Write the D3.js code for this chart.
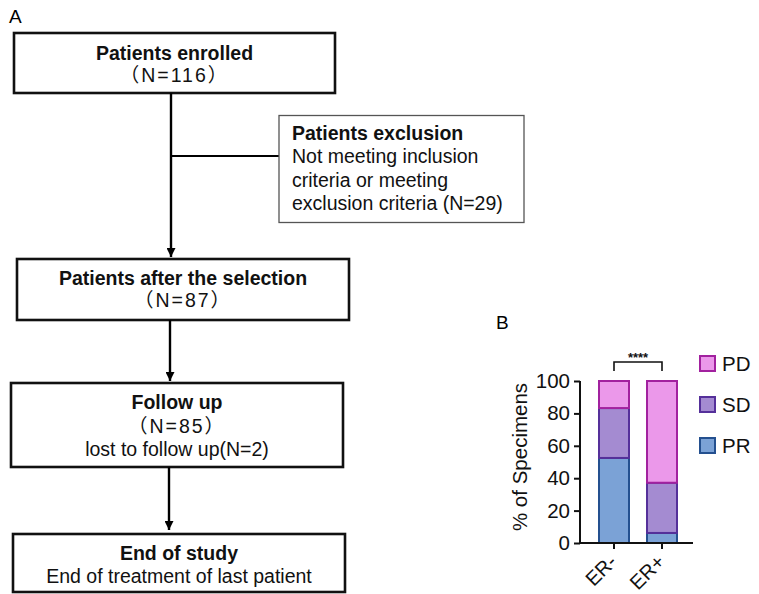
<!DOCTYPE html>
<html><head><meta charset="utf-8">
<script src="https://cdn.jsdelivr.net/npm/d3@7"></script>
<style>body{margin:0;background:#fff}svg{display:block}text{font-family:"Liberation Sans",Arial,"Noto Sans CJK SC",sans-serif;}</style>
</head><body>
<script>
// ---- data ----
const categories = ["ER-", "ER+"];
const seriesNames = ["PR", "SD", "PD"];
const prValues = [52.5, 6.2];
const sdValues = [30.8, 31.0];
const pdValues = [16.7, 62.8];
const yTicks = [0, 20, 40, 60, 80, 100];
const flowBoxes = [
  {lines: [["Patients enrolled", true], ["（N=116）", false]]},
  {lines: [["Patients after the selection", true], ["（N=87）", false]]},
  {lines: [["Follow up", true], ["（N=85）", false], ["lost to follow up(N=2)", false]]},
  {lines: [["End of study", true], ["End of treatment of last patient", false]]}
];
const exclusionLines = [["Patients exclusion", true], ["Not meeting inclusion", false], ["criteria or meeting", false], ["exclusion criteria (N=29)", false]];

const W = 759, H = 594;
const svg = d3.select("body").append("svg").attr("width", W).attr("height", H);
svg.append("defs").append("marker").attr("id", "arr").attr("viewBox", "0 0 10 10")
  .attr("refX", 10).attr("refY", 5).attr("markerWidth", 9).attr("markerHeight", 9)
  .attr("markerUnits", "userSpaceOnUse").attr("orient", "auto")
  .append("path").attr("d", "M0,0L10,5L0,10Z").attr("fill", "#000");

// ---- panel labels ----
svg.append("text").attr("x", 9).attr("y", 23).attr("font-size", 19).text("A");
svg.append("text").attr("x", 496).attr("y", 329).attr("font-size", 19).text("B");

// ---- flowchart ----
const boxGeom = [
  {x: 14, y: 33, w: 321, h: 60, base: [60, 82]},
  {x: 17, y: 259, w: 332, h: 61, base: [285, 307]},
  {x: 11, y: 383, w: 332, h: 84, base: [409, 433, 456]},
  {x: 13, y: 534, w: 332, h: 58, base: [560, 583]}
];
const fg = svg.append("g");
flowBoxes.forEach((b, i) => {
  const g = boxGeom[i];
  fg.append("rect").attr("x", g.x).attr("y", g.y).attr("width", g.w).attr("height", g.h)
    .attr("fill", "#fff").attr("stroke", "#111").attr("stroke-width", 2.6);
  b.lines.forEach((l, j) => {
    const wide = l[0].indexOf("（") >= 0;
    fg.append("text").attr("x", g.x + g.w / 2).attr("y", g.base[j]).attr("text-anchor", "middle")
      .attr("font-size", 19.5).attr("font-weight", l[1] ? "bold" : "normal")
      .attr("letter-spacing", wide ? 2 : 0).attr("fill", "#111").text(l[0]);
  });
});
// arrows
const arrows = [[171, 93, 257], [170, 320, 381], [169, 467, 530]];
arrows.forEach(a => {
  fg.append("line").attr("x1", a[0]).attr("x2", a[0]).attr("y1", a[1]).attr("y2", a[2])
    .attr("stroke", "#000").attr("stroke-width", 2.4).attr("marker-end", "url(#arr)");
});
fg.append("line").attr("x1", 171).attr("x2", 279).attr("y1", 156).attr("y2", 156)
  .attr("stroke", "#000").attr("stroke-width", 2.2);
fg.append("rect").attr("x", 279).attr("y", 115.5).attr("width", 245).attr("height", 107)
  .attr("fill", "#fff").attr("stroke", "#555").attr("stroke-width", 1.3);
exclusionLines.forEach((l, j) => {
  fg.append("text").attr("x", 292).attr("y", 140 + j * 23.3).attr("font-size", 19.5)
    .attr("font-weight", l[1] ? "bold" : "normal").attr("fill", "#111").text(l[0]);
});

// ---- bar chart ----
const y = d3.scaleLinear().domain([0, 100]).range([543, 381]);
const x = d3.scaleBand().domain(categories).range([590, 686]).paddingInner(0.375).paddingOuter(0.1875);
const fills = {PR: "#7ba2d6", SD: "#a48bd1", PD: "#eb98ea"};
const strokes = {PR: "#24508f", SD: "#55309a", PD: "#a2219f"};
const rows = categories.map((c, i) => ({cat: c, PR: prValues[i], SD: sdValues[i], PD: pdValues[i]}));
const stacked = d3.stack().keys(seriesNames)(rows);
const bc = svg.append("g");
stacked.forEach(s => {
  bc.append("g").selectAll("rect").data(s).join("rect")
    .attr("x", d => x(d.data.cat)).attr("width", x.bandwidth())
    .attr("y", d => y(d[1])).attr("height", d => y(d[0]) - y(d[1]))
    .attr("fill", fills[s.key]).attr("stroke", strokes[s.key]).attr("stroke-width", 2);
});
// y axis
const yAxis = d3.axisLeft(y).tickValues(yTicks).tickSize(6).tickPadding(4);
const yg = bc.append("g").attr("transform", "translate(580,0)").call(yAxis);
yg.select(".domain").attr("stroke", "#111").attr("stroke-width", 2).attr("d", "M0,381V543");
yg.selectAll(".tick line").attr("stroke", "#111").attr("stroke-width", 2);
yg.selectAll(".tick text").attr("font-size", 20.5).attr("fill", "#111").attr("font-family", "Liberation Sans, Arial, sans-serif");
// x axis
const xAxis = d3.axisBottom(x).tickSize(6).tickFormat("");
const xg = bc.append("g").attr("transform", "translate(0,543)").call(xAxis);
xg.select(".domain").attr("stroke", "#111").attr("stroke-width", 2).attr("d", "M579,0H693");
xg.selectAll(".tick line").attr("stroke", "#111").attr("stroke-width", 2);
categories.forEach(c => {
  const cx = x(c) + x.bandwidth() / 2;
  bc.append("text").attr("transform", `translate(${cx + 4},${563}) rotate(-45)`)
    .attr("text-anchor", "end").attr("font-size", 20).attr("fill", "#111").text(c);
});
// y title
bc.append("text").attr("transform", "translate(527,457) rotate(-90)").attr("text-anchor", "middle")
  .attr("font-size", 20.5).attr("fill", "#111").text("% of Specimens");
// significance bracket
const c1 = x(categories[0]) + x.bandwidth() / 2, c2 = x(categories[1]) + x.bandwidth() / 2;
bc.append("path").attr("d", `M${c1},371V362H${c2}V371`).attr("fill", "none").attr("stroke", "#111").attr("stroke-width", 1.6);
bc.append("text").attr("x", (c1 + c2) / 2).attr("y", 362).attr("text-anchor", "middle")
  .attr("font-size", 13).attr("font-weight", "bold").attr("fill", "#111").text("****");
// legend
const legendOrder = ["PD", "SD", "PR"];
legendOrder.forEach((k, i) => {
  const ly = 356 + i * 41;
  bc.append("rect").attr("x", 700).attr("y", ly).attr("width", 15).attr("height", 15)
    .attr("fill", fills[k]).attr("stroke", strokes[k]).attr("stroke-width", 2);
  bc.append("text").attr("x", 722).attr("y", ly + 15).attr("font-size", 20.5).attr("fill", "#111").text(k);
});
</script>
</body></html>
